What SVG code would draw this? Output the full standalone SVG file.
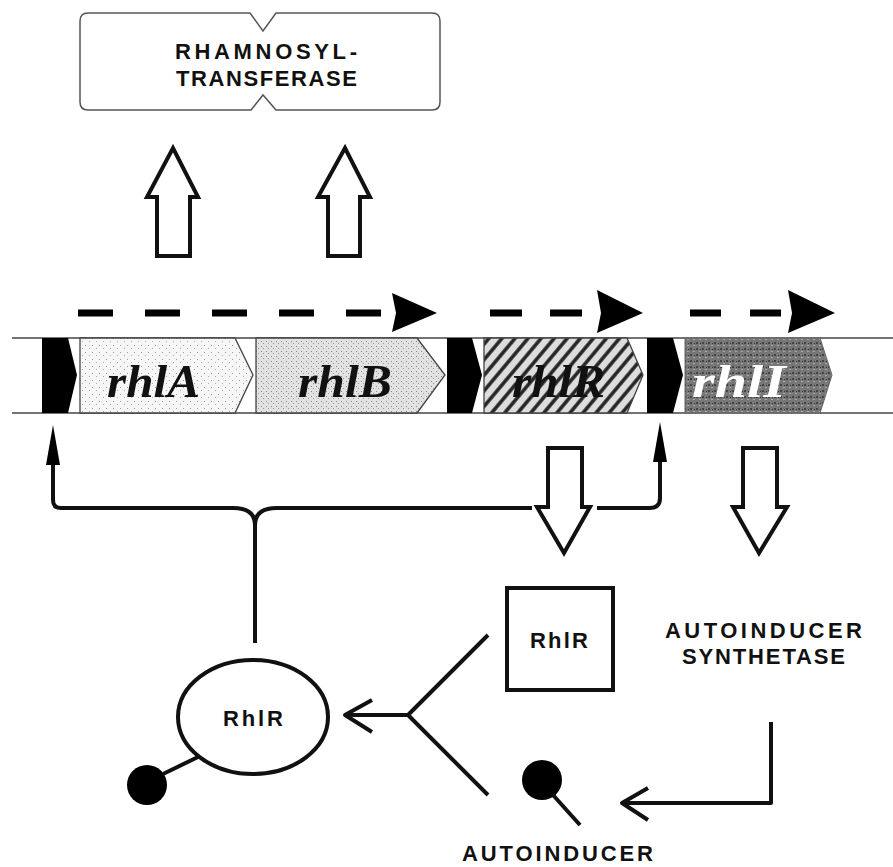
<svg xmlns="http://www.w3.org/2000/svg" width="893" height="867" viewBox="0 0 893 867">
<style>
.lbl{font-family:"Liberation Sans",Arial,sans-serif;font-weight:bold;font-size:22px;fill:#111}
.gene{font-family:"Liberation Serif","Times New Roman",serif;font-weight:bold;font-style:italic;font-size:47px;fill:#111}
.ln{fill:none;stroke:#111;stroke-width:4;stroke-linejoin:round}
.big{fill:#fff;stroke:#111;stroke-width:4;stroke-linejoin:miter}
.dash{fill:none;stroke:#000;stroke-width:7}
.box{stroke:#444;stroke-width:1.3}
</style>
<defs>
<pattern id="stA" width="7" height="7" patternUnits="userSpaceOnUse">
<rect width="7" height="7" fill="#f6f6f6"/>
<rect x="1" y="2" width="1" height="1" fill="#999"/>
<rect x="5" y="5" width="1" height="1" fill="#aaa"/>
</pattern>
<pattern id="stB" width="5" height="5" patternUnits="userSpaceOnUse">
<rect width="5" height="5" fill="#e2e2e2"/>
<rect x="1" y="1" width="1" height="1" fill="#888"/>
<rect x="3" y="3" width="1" height="1" fill="#999"/>
</pattern>
<pattern id="hatch" width="10" height="10" patternUnits="userSpaceOnUse" patternTransform="rotate(40)">
<rect width="10" height="10" fill="#ddd"/>
<line x1="2" y1="0" x2="2" y2="10" stroke="#222" stroke-width="3.5"/>
</pattern>
<pattern id="dark" width="6" height="6" patternUnits="userSpaceOnUse">
<rect width="6" height="6" fill="#777"/>
<rect x="0" y="0" width="2" height="2" fill="#444"/>
<rect x="3" y="3" width="2" height="1" fill="#aaa"/>
<rect x="4" y="1" width="1" height="1" fill="#333"/>
</pattern>
</defs>

<g id="enzyme">
<path d="M88 13 L250 13 L263 31 L276 13 L432 13 Q440 13 440 21 L440 102 Q440 110 432 110 L276 110 L263 95 L251 110 L88 110 Q80 110 80 102 L80 21 Q80 13 88 13 Z" fill="#fff" stroke="#555" stroke-width="1.5"/>
<text class="lbl" x="175" y="59" textLength="182" lengthAdjust="spacing">RHAMNOSYL-</text>
<text class="lbl" x="176" y="86" textLength="181" lengthAdjust="spacing">TRANSFERASE</text>
</g>

<g id="up-arrows">
<polygon class="big" points="157,256 190,256 190,197 198,197 173,148 147,197 157,197"/>
<polygon class="big" points="328,256 360,256 360,197 370,197 345,148 318,197 328,197"/>
</g>

<g id="transcripts">
<line class="dash" x1="78" y1="313" x2="386" y2="313" stroke-dasharray="35 32"/>
<polygon points="392,293 437,313 392,332 396,313" fill="#000"/>
<line class="dash" x1="490" y1="313" x2="582" y2="313" stroke-dasharray="32 28"/>
<polygon points="597,290 643,313 597,333 601,313" fill="#000"/>
<line class="dash" x1="690" y1="313" x2="782" y2="313" stroke-dasharray="31 29"/>
<polygon points="788,290 835,313 788,333 792,313" fill="#000"/>
</g>

<g id="operon">
<line x1="12" y1="338" x2="893" y2="338" stroke="#444" stroke-width="1.5"/>
<line x1="12" y1="413" x2="893" y2="413" stroke="#444" stroke-width="1.5"/>
<polygon points="42,338 68,338 77,375 68,413 42,413" fill="#000"/>
<polygon class="box" points="80,338 235,338 253,375 235,413 80,413" fill="url(#stA)"/>
<polygon class="box" points="256,338 417,338 445,375 417,413 256,413" fill="url(#stB)"/>
<polygon points="447,338 472,338 482,375 472,413 447,413" fill="#000"/>
<polygon class="box" points="484,338 627,338 643,375 627,413 484,413" fill="url(#hatch)"/>
<polygon points="647,338 673,338 683,375 673,413 647,413" fill="#000"/>
<polygon points="685,338 820,338 832,375 820,413 685,413" fill="url(#dark)" stroke="#666" stroke-width="1"/>
<text class="gene" x="107" y="397" textLength="93" lengthAdjust="spacingAndGlyphs">rhlA</text>
<text class="gene" x="298" y="397" textLength="94" lengthAdjust="spacingAndGlyphs">rhlB</text>
<text class="gene" x="512" y="397" textLength="93" lengthAdjust="spacingAndGlyphs">rhlR</text>
<text class="gene" x="692" y="397" textLength="94" lengthAdjust="spacingAndGlyphs" style="fill:#fff">rhlI</text>
</g>

<g id="down-arrows">
<polygon class="big" points="548,448 582,448 582,507 590,507 564,553 537,507 548,507"/>
<polygon class="big" points="743,448 777,448 777,507 787,507 759,553 733,507 743,507"/>
</g>

<g id="rhlr-box">
<rect x="507" y="588" width="106" height="102" fill="#fff" stroke="#111" stroke-width="4"/>
<text class="lbl" x="530" y="648" textLength="58" lengthAdjust="spacing">RhlR</text>
</g>

<g id="synthetase">
<text class="lbl" x="665" y="638" textLength="197" lengthAdjust="spacing">AUTOINDUCER</text>
<text class="lbl" x="682" y="664" textLength="163" lengthAdjust="spacing">SYNTHETASE</text>
</g>

<g id="rhlr-complex">
<ellipse cx="253" cy="717" rx="75" ry="57" fill="#fff" stroke="#111" stroke-width="4"/>
<text class="lbl" x="223" y="726" textLength="60" lengthAdjust="spacing">RhlR</text>
<circle cx="147" cy="785" r="20" fill="#000"/>
<line class="ln" x1="163" y1="774" x2="198" y2="757"/>
</g>

<g id="autoinducer">
<circle cx="542" cy="780" r="20" fill="#000"/>
<line class="ln" x1="553" y1="795" x2="580" y2="825"/>
<text class="lbl" x="462" y="861" textLength="191" lengthAdjust="spacing">AUTOINDUCER</text>
</g>

<g id="connectors">
<path class="ln" d="M53 460 L53 500 Q53 508 61 508 L233 508 Q255 508 255 525 L255 643"/>
<path class="ln" d="M255 525 Q255 508 277 508 L532 508"/>
<path class="ln" d="M597 508 L650 508 Q660 508 660 498 L660 458"/>
<polygon points="53,425 46,465 60,465" fill="#000"/>
<polygon points="660,422 653,462 667,462" fill="#000"/>
<path class="ln" d="M488 635 L408 715 L488 795"/>
<line class="ln" x1="408" y1="715" x2="346" y2="715"/>
<path class="ln" d="M372 700 L345 715 L372 732"/>
<path class="ln" d="M771 722 L771 803 L624 803"/>
<path class="ln" d="M648 788 L622 803 L648 820"/>
</g>
</svg>
